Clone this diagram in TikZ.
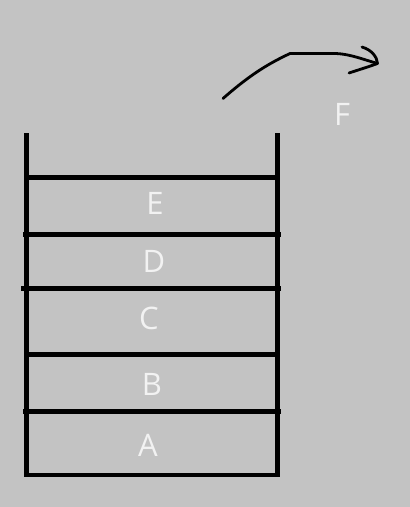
\documentclass[tikz,border=0pt]{standalone}
\usepackage{fontspec}
\setmainfont{Open Sans}
\definecolor{bg}{RGB}{195,195,195}
\definecolor{lbl}{RGB}{242,242,242}
\begin{document}
\begin{tikzpicture}[x=1pt,y=-1pt,
  wall/.style={line width=4.8pt,black},
  shelf/.style={line width=4.5pt,black},
  pen/.style={line width=2.8pt,black,line cap=round,line join=round},
  lab/.style={text=lbl,font=\fontsize{31}{31}\selectfont,inner sep=0pt,anchor=center}]
\fill[bg] (0,0) rectangle (410,507);
\useasboundingbox (0,0) rectangle (410,507);
% walls
\draw[wall] (26.5,133) -- (26.5,475) -- (277.5,475) -- (277.5,133);
% shelves
\draw[shelf] (27,177.3) -- (277,177.3);
\draw[shelf] (23,234.3) -- (281,234.3);
\draw[shelf] (21,288.3) -- (281,288.3);
\draw[shelf] (27,354.3) -- (277,354.3);
\draw[shelf] (23,411.3) -- (281,411.3);
% labels
\node[lab] (E) at (155,203) {E};
\node[lab] (D) at (154,261) {D};
\node[lab] (C) at (149,318) {C};
\node[lab] (B) at (152,384) {B};
\node[lab] (A) at (148,445) {A};
\node[lab] (F) at (342,114) {F};
% arrow
\coordinate (s) at (223,98.5);
\coordinate (m) at (290,53.5);
\coordinate (n) at (336,53.5);
\coordinate (t) at (377.5,63.5);
\draw[pen] (s) .. controls (252,73) and (270,63) .. (m) -- (n) .. controls (350,54) and (365,60) .. (t);
\draw[pen] (362,47) .. controls (372,50) and (377,57) .. (t) .. controls (368,67) and (358,70) .. (349,73);
\end{tikzpicture}
\end{document}
